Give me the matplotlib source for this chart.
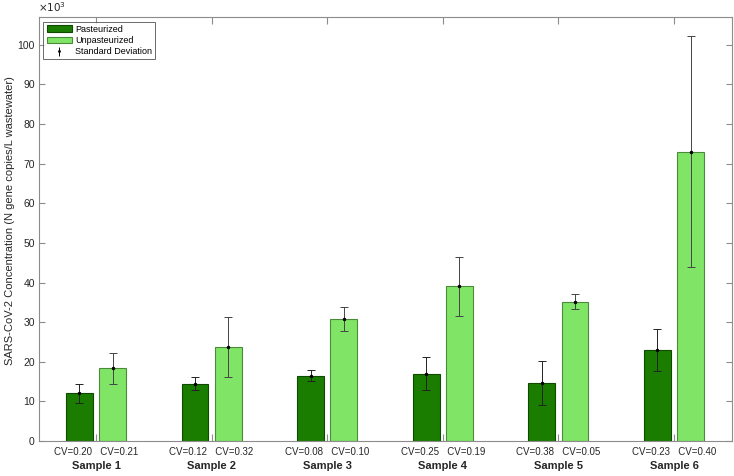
import numpy as np
import matplotlib
matplotlib.use("Agg")
import matplotlib.pyplot as plt

plt.rcParams['font.family'] = ['Liberation Sans', 'DejaVu Sans']

samples = ['Sample 1', 'Sample 2', 'Sample 3', 'Sample 4', 'Sample 5', 'Sample 6']
# concentrations in units of 10^3 gene copies / L
past_mean = [12.0, 14.5, 16.5, 17.0, 14.6, 23.0]
past_sd = [2.4, 1.7, 1.3, 4.2, 5.5, 5.3]
unpast_mean = [18.4, 23.8, 30.8, 39.0, 35.2, 73.0]
unpast_sd = [3.9, 7.6, 3.1, 7.4, 1.8, 29.2]
past_cv = ['CV=0.20', 'CV=0.12', 'CV=0.08', 'CV=0.25', 'CV=0.38', 'CV=0.23']
unpast_cv = ['CV=0.21', 'CV=0.32', 'CV=0.10', 'CV=0.19', 'CV=0.05', 'CV=0.40']

dark = '#1a7d00'
light = '#80e566'
axcol = '#8c8c8c'
txtcol = '#262626'

fig = plt.figure(figsize=(7.34, 4.76), dpi=100)
ax = fig.add_axes([0.0531, 0.0735, 0.9439, 0.8908])

x = np.arange(1, len(samples) + 1)
w = 0.232
off = 0.144
ax.bar(x - off, past_mean, w, color=dark, edgecolor='#0f4a00', linewidth=0.8, label='Pasteurized')
ax.bar(x + off, unpast_mean, w, color=light, edgecolor='#4a8a3a', linewidth=0.8, label='Unpasteurized')
ax.errorbar(x - off, past_mean, yerr=past_sd, fmt='.', color='black', ecolor='#222222',
            elinewidth=0.7, capsize=3, capthick=0.7, markersize=3)
ax.errorbar(x + off, unpast_mean, yerr=unpast_sd, fmt='.', color='black', ecolor='#444444',
            elinewidth=0.7, capsize=3, capthick=0.7, markersize=3)

ax.set_xlim(0.507, 6.5)
ax.set_ylim(0, 107)
ax.set_yticks(np.arange(0, 101, 10))
ax.set_xticks(x)
ax.set_xticklabels([])
for s in ax.spines.values():
    s.set_color(axcol)
    s.set_linewidth(0.8)
ax.tick_params(direction='in', color=axcol, labelcolor=txtcol, labelsize=7.5,
               top=True, right=True, length=4, pad=3)
ax.tick_params(axis='x', length=5)

trans = ax.get_xaxis_transform()
for i in range(len(samples)):
    ax.text(x[i], -0.026, past_cv[i] + '   ' + unpast_cv[i], transform=trans,
            ha='center', va='center', fontsize=7, color=txtcol)
    ax.text(x[i], -0.06, samples[i], transform=trans, ha='center', va='center',
            fontsize=8, fontweight='bold', color=txtcol)

ax.set_ylabel('SARS-CoV-2 Concentration (N gene copies/L wastewater)', fontsize=8,
              color=txtcol)
ax.yaxis.set_label_coords(-0.034, 0.52)
ax.text(-0.002, 1.008, r'$\times10^3$', transform=ax.transAxes, ha='left', va='bottom',
        fontsize=7.5, color=txtcol)

handles = [
    plt.Rectangle((0, 0), 1, 1, facecolor=dark, edgecolor='#0f4a00', linewidth=0.8),
    plt.Rectangle((0, 0), 1, 1, facecolor=light, edgecolor='#4a8a3a', linewidth=0.8),
    ax.errorbar([], [], yerr=[], fmt='.', color='black', capsize=2, elinewidth=0.7, markersize=2),
]
leg = ax.legend(handles, ['Pasteurized', 'Unpasteurized', 'Standard Deviation'],
                loc='upper left', fontsize=6.5, frameon=True, fancybox=False,
                borderpad=0.35, labelspacing=0.25, handlelength=2.8, handletextpad=0.35,
                borderaxespad=0.5)
leg.get_frame().set_edgecolor('#444444')
leg.get_frame().set_linewidth(0.7)

fig.savefig('out.png', dpi=100)
